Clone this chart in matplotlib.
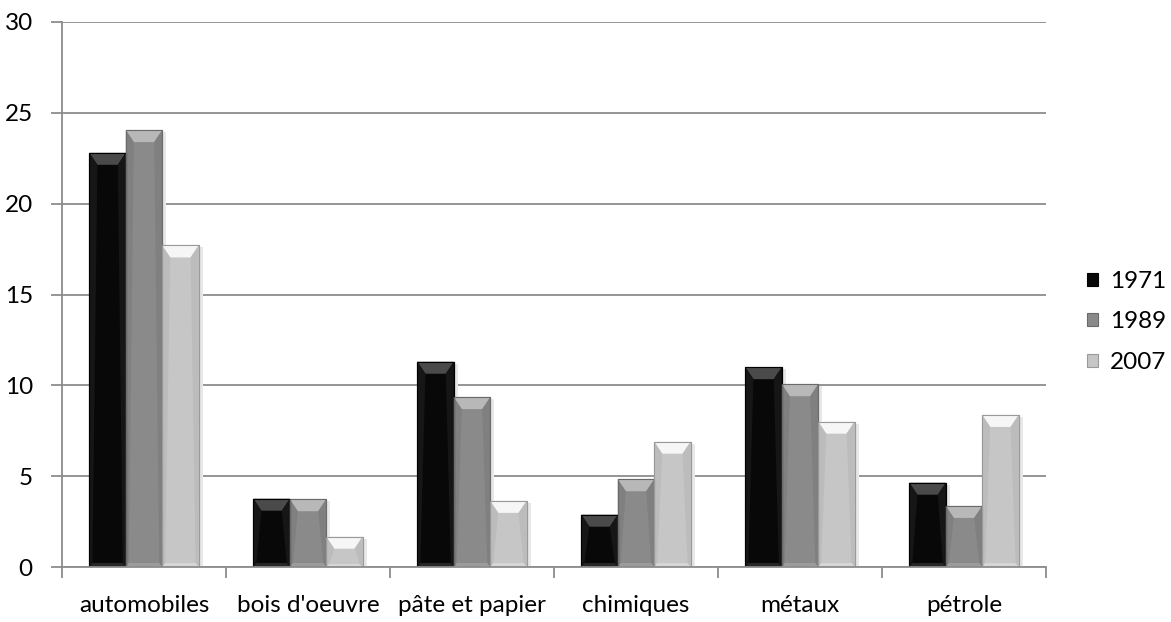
import numpy as np
import matplotlib.pyplot as plt
from matplotlib.patches import Polygon, Rectangle

plt.rcParams['font.family'] = ['Lato', 'DejaVu Sans']

categories = ['automobiles', "bois d'oeuvre", 'pâte et papier', 'chimiques', 'métaux', 'pétrole']
years = ['1971', '1989', '2007']
v1971 = [22.8, 3.76, 11.3, 2.88, 11.0, 4.64]
v1989 = [24.05, 3.73, 9.35, 4.83, 10.06, 3.36]
v2007 = [17.7, 1.67, 3.64, 6.9, 8.0, 8.37]
series = [v1971, v1989, v2007]

# body, top bevel, side bevel, bottom bevel, outline
looks = [
    ('#080808', '#4a4a4a', '#161616', '#262626', '#000000'),
    ('#8a8a8a', '#b8b8b8', '#808080', '#9c9c9c', '#6a6a6a'),
    ('#c6c6c6', '#f6f6f6', '#bcbcbc', '#d6d6d6', '#9a9a9a'),
]

fs = 17.5

fig = plt.figure(figsize=(11.71, 6.22), dpi=100)
ax = fig.add_axes([62 / 1171, 1 - 567 / 622, (1046 - 62) / 1171, (567 - 22) / 622])

x = np.arange(len(categories))
w = 0.222
ax.set_xlim(-0.5, len(categories) - 0.5)
ax.set_ylim(0, 30)

bbox = ax.get_window_extent()
px_x = bbox.width / len(categories)   # pixels per x unit
px_y = bbox.height / 30               # pixels per y unit

containers = []
for i, (vals, look) in enumerate(zip(series, looks)):
    body, top_c, side_c, bot_c, edge = look
    pos = x + (i - 1) * w
    bars = ax.bar(pos, vals, w, color=body, edgecolor=edge, linewidth=0.8,
                  label=years[i], zorder=3)
    containers.append(bars)
    for rect in bars:
        x0, y0 = rect.get_x(), rect.get_y()
        bw, bh = rect.get_width(), rect.get_height()
        x1, y1 = x0 + bw, y0 + bh
        dx = 8 / px_x
        ds = 3 / px_x
        dy = min(12 / px_y, bh * 0.4)
        db = min(4 / px_y, bh * 0.1)
        # soft shadow on the right
        ax.add_patch(Rectangle((x1, y0), 4 / px_x, bh - 2 / px_y, color='#e8e8e8',
                               lw=0, zorder=2))
        ax.add_patch(Polygon([(x0, y1), (x1, y1), (x1 - dx, y1 - dy), (x0 + dx, y1 - dy)],
                             closed=True, fc=top_c, ec='none', zorder=4))
        ax.add_patch(Polygon([(x0, y1), (x0 + dx, y1 - dy), (x0 + ds, y0 + db), (x0, y0)],
                             closed=True, fc=side_c, ec='none', zorder=4))
        ax.add_patch(Polygon([(x1, y1), (x1 - dx, y1 - dy), (x1 - ds, y0 + db), (x1, y0)],
                             closed=True, fc=side_c, ec='none', zorder=4))
        ax.add_patch(Polygon([(x0, y0), (x1, y0), (x1 - ds, y0 + db), (x0 + ds, y0 + db)],
                             closed=True, fc=bot_c, ec='none', zorder=4))
        ax.add_patch(Rectangle((x0, y0), bw, bh, fc='none', ec=edge, lw=0.8, zorder=5))

ax.set_yticks(np.arange(0, 31, 5))
ax.yaxis.grid(True, color='#8c8c8c', linewidth=1.3, zorder=0)
ax.set_axisbelow(True)

ax.set_xticks(np.arange(-0.5, len(categories), 1))
ax.set_xticklabels([])
ax.set_xticks(x, minor=True)
ax.set_xticklabels(categories, minor=True)
ax.tick_params(axis='x', which='major', length=8, width=1.3, color='#8c8c8c', direction='out')
ax.tick_params(axis='x', which='minor', length=0, pad=20, labelsize=fs)
ax.tick_params(axis='y', length=8, width=1.3, color='#8c8c8c', pad=13, labelsize=fs)

for s in ['top', 'right']:
    ax.spines[s].set_visible(False)
for s in ['left', 'bottom']:
    ax.spines[s].set_color('#8c8c8c')
    ax.spines[s].set_linewidth(1.3)
    ax.spines[s].set_zorder(6)

leg = ax.legend(handles=containers, labels=years, loc='center left',
                bbox_to_anchor=(1087 / 1171, 1 - 322 / 622), bbox_transform=fig.transFigure,
                frameon=False, fontsize=fs, handlelength=0.45, handleheight=0.45,
                handletextpad=0.5, labelspacing=0.8, borderpad=0, borderaxespad=0)

fig.savefig('out.png', dpi=100)
